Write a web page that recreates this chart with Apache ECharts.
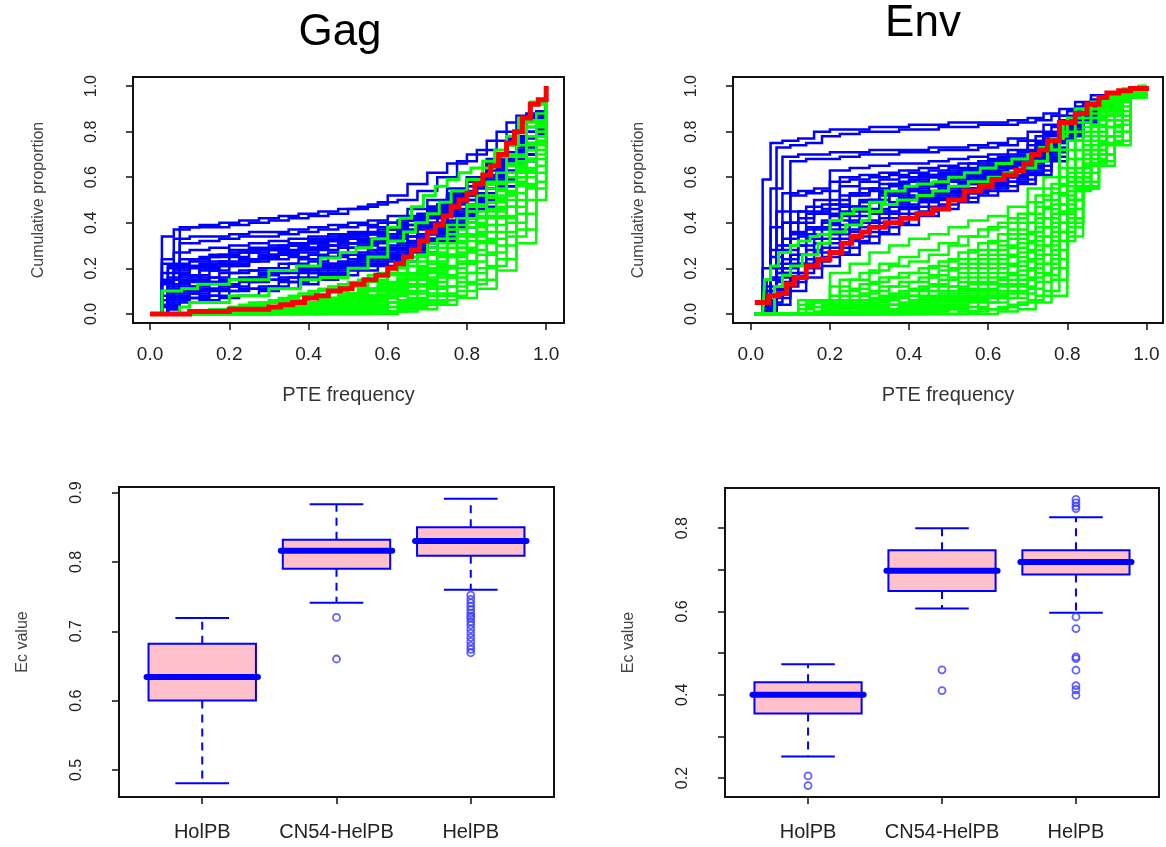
<!DOCTYPE html>
<html>
<head>
<meta charset="utf-8">
<script src="https://cdn.jsdelivr.net/npm/echarts@6/dist/echarts.min.js"></script>
<style>
  html, body { margin: 0; padding: 0; background: #ffffff; }
  #chart { width: 1166px; height: 847px; }
</style>
</head>
<body>
<div id="chart"></div>
<script>
// ---------- Panel titles and axis texts ----------
const panelTitles = ['Gag', 'Env'];
const pteName = 'PTE frequency';
const cumName = 'Cumulative proportion';
const ecName = 'Ec value';
const groups = ['HolPB', 'CN54-HelPB', 'HelPB'];

// ---------- Tick values ----------
const pteTicks = [0, 0.2, 0.4, 0.6, 0.8, 1.0];
const cumTicks = [0, 0.2, 0.4, 0.6, 0.8, 1.0];
const groupTicks = [1, 2, 3];
const gagEcTicks = [0.5, 0.6, 0.7, 0.8, 0.9];
const envEcTicks = [0.2, 0.3, 0.4, 0.5, 0.6, 0.7, 0.8];
const envEcLabels = [0.2, 0.4, 0.6, 0.8];

// ---------- Gag: cumulative proportion of PTE frequency ----------
// Two x breakpoint sets; curves alternate between them (even -> A, odd -> B)
const gagGridA = [0.01, 0.03, 0.06, 0.1, 0.15, 0.2, 0.25, 0.3, 0.35, 0.4, 0.45, 0.5, 0.55, 0.6, 0.65, 0.7, 0.75, 0.8, 0.85, 0.9, 0.95, 1.0];
const gagGridB = [0.015, 0.045, 0.075, 0.125, 0.175, 0.225, 0.275, 0.325, 0.375, 0.425, 0.475, 0.525, 0.575, 0.625, 0.675, 0.725, 0.775, 0.825, 0.875, 0.925, 0.975, 1.0];

const gagBlue = [
  [0, 0.34, 0.37, 0.38, 0.38, 0.39, 0.40, 0.41, 0.42, 0.43, 0.44, 0.46, 0.48, 0.52, 0.57, 0.62, 0.66, 0.70, 0.76, 0.84, 0.88, 1],
  [0, 0.02, 0.38, 0.39, 0.40, 0.41, 0.42, 0.43, 0.44, 0.45, 0.46, 0.47, 0.49, 0.50, 0.54, 0.60, 0.67, 0.72, 0.80, 0.87, 0.89, 1],
  [0, 0.22, 0.33, 0.34, 0.34, 0.35, 0.36, 0.36, 0.37, 0.38, 0.39, 0.40, 0.41, 0.43, 0.46, 0.50, 0.55, 0.60, 0.68, 0.78, 0.87, 1],
  [0, 0.20, 0.31, 0.32, 0.33, 0.34, 0.34, 0.35, 0.36, 0.37, 0.38, 0.39, 0.40, 0.41, 0.44, 0.48, 0.52, 0.58, 0.65, 0.75, 0.85, 1],
  [0, 0.24, 0.27, 0.28, 0.29, 0.30, 0.31, 0.32, 0.33, 0.34, 0.35, 0.36, 0.38, 0.40, 0.43, 0.47, 0.52, 0.58, 0.66, 0.76, 0.86, 1],
  [0, 0.21, 0.24, 0.25, 0.26, 0.27, 0.28, 0.30, 0.31, 0.32, 0.34, 0.35, 0.37, 0.39, 0.43, 0.48, 0.54, 0.60, 0.68, 0.78, 0.88, 1],
  [0, 0.18, 0.22, 0.23, 0.25, 0.27, 0.28, 0.29, 0.30, 0.31, 0.32, 0.33, 0.35, 0.37, 0.41, 0.46, 0.52, 0.58, 0.66, 0.76, 0.85, 1],
  [0, 0.16, 0.21, 0.22, 0.23, 0.24, 0.26, 0.27, 0.28, 0.30, 0.31, 0.32, 0.33, 0.36, 0.40, 0.44, 0.50, 0.57, 0.65, 0.74, 0.84, 1],
  [0, 0.14, 0.19, 0.20, 0.21, 0.22, 0.24, 0.26, 0.28, 0.29, 0.30, 0.31, 0.33, 0.35, 0.39, 0.45, 0.51, 0.58, 0.66, 0.75, 0.86, 1],
  [0, 0.12, 0.17, 0.19, 0.21, 0.23, 0.25, 0.26, 0.27, 0.28, 0.29, 0.30, 0.32, 0.34, 0.38, 0.43, 0.48, 0.55, 0.63, 0.73, 0.84, 1],
  [0, 0.10, 0.15, 0.17, 0.19, 0.21, 0.23, 0.24, 0.25, 0.26, 0.27, 0.29, 0.31, 0.33, 0.37, 0.42, 0.49, 0.56, 0.64, 0.75, 0.85, 1],
  [0, 0.09, 0.14, 0.16, 0.18, 0.19, 0.20, 0.22, 0.24, 0.25, 0.26, 0.27, 0.29, 0.31, 0.35, 0.40, 0.46, 0.53, 0.62, 0.72, 0.83, 1],
  [0, 0.08, 0.13, 0.15, 0.16, 0.18, 0.19, 0.20, 0.22, 0.23, 0.25, 0.26, 0.28, 0.30, 0.34, 0.39, 0.45, 0.52, 0.61, 0.71, 0.82, 1],
  [0, 0.07, 0.12, 0.14, 0.15, 0.16, 0.18, 0.19, 0.20, 0.22, 0.23, 0.25, 0.27, 0.29, 0.33, 0.38, 0.44, 0.51, 0.60, 0.70, 0.82, 1],
  [0, 0.06, 0.10, 0.12, 0.14, 0.15, 0.16, 0.18, 0.19, 0.20, 0.22, 0.24, 0.26, 0.28, 0.32, 0.37, 0.43, 0.50, 0.58, 0.69, 0.80, 1],
  [0, 0.05, 0.09, 0.10, 0.12, 0.14, 0.15, 0.16, 0.18, 0.19, 0.21, 0.23, 0.25, 0.27, 0.31, 0.36, 0.42, 0.49, 0.58, 0.70, 0.82, 1],
  [0, 0.04, 0.08, 0.09, 0.11, 0.12, 0.14, 0.15, 0.16, 0.18, 0.20, 0.22, 0.24, 0.26, 0.30, 0.35, 0.41, 0.48, 0.57, 0.68, 0.80, 1],
  [0, 0.03, 0.07, 0.08, 0.10, 0.11, 0.12, 0.14, 0.15, 0.17, 0.19, 0.21, 0.23, 0.25, 0.29, 0.34, 0.40, 0.47, 0.56, 0.67, 0.79, 1],
  [0, 0.03, 0.06, 0.07, 0.08, 0.10, 0.11, 0.12, 0.14, 0.16, 0.18, 0.20, 0.22, 0.24, 0.28, 0.33, 0.39, 0.46, 0.55, 0.66, 0.78, 1],
  [0, 0.02, 0.05, 0.06, 0.07, 0.08, 0.10, 0.11, 0.13, 0.15, 0.17, 0.19, 0.21, 0.23, 0.27, 0.32, 0.38, 0.46, 0.56, 0.68, 0.80, 1],
  [0, 0.15, 0.20, 0.24, 0.26, 0.28, 0.29, 0.30, 0.31, 0.33, 0.34, 0.35, 0.36, 0.38, 0.42, 0.47, 0.53, 0.60, 0.67, 0.77, 0.87, 1],
  [0, 0.11, 0.16, 0.20, 0.22, 0.24, 0.25, 0.27, 0.29, 0.30, 0.31, 0.32, 0.34, 0.36, 0.40, 0.46, 0.52, 0.59, 0.67, 0.77, 0.87, 1],
  [0, 0.13, 0.18, 0.21, 0.23, 0.25, 0.27, 0.28, 0.30, 0.32, 0.33, 0.34, 0.35, 0.37, 0.41, 0.45, 0.50, 0.56, 0.63, 0.74, 0.85, 1],
  [0, 0.04, 0.10, 0.11, 0.13, 0.15, 0.17, 0.18, 0.19, 0.21, 0.22, 0.24, 0.26, 0.28, 0.32, 0.37, 0.43, 0.50, 0.59, 0.70, 0.81, 1]
];

const gagGreen = [
  [0, 0, 0, 0.01, 0.02, 0.03, 0.04, 0.05, 0.06, 0.08, 0.10, 0.12, 0.14, 0.17, 0.21, 0.27, 0.35, 0.45, 0.55, 0.66, 0.82, 1],
  [0, 0, 0, 0.01, 0.01, 0.02, 0.03, 0.04, 0.05, 0.06, 0.08, 0.10, 0.12, 0.15, 0.19, 0.25, 0.32, 0.42, 0.52, 0.64, 0.80, 1],
  [0, 0, 0, 0, 0.01, 0.02, 0.02, 0.03, 0.04, 0.05, 0.07, 0.09, 0.11, 0.13, 0.17, 0.22, 0.29, 0.38, 0.49, 0.62, 0.78, 1],
  [0, 0, 0, 0, 0.01, 0.01, 0.02, 0.03, 0.03, 0.04, 0.06, 0.08, 0.10, 0.12, 0.15, 0.20, 0.27, 0.36, 0.47, 0.60, 0.76, 1],
  [0, 0, 0, 0, 0, 0.01, 0.01, 0.02, 0.03, 0.04, 0.05, 0.07, 0.08, 0.10, 0.13, 0.18, 0.25, 0.34, 0.45, 0.58, 0.75, 1],
  [0, 0, 0, 0, 0, 0.01, 0.01, 0.02, 0.02, 0.03, 0.04, 0.05, 0.07, 0.09, 0.12, 0.16, 0.22, 0.31, 0.42, 0.56, 0.74, 1],
  [0, 0, 0, 0, 0, 0, 0.01, 0.01, 0.02, 0.02, 0.03, 0.04, 0.06, 0.08, 0.10, 0.14, 0.20, 0.28, 0.39, 0.53, 0.72, 1],
  [0, 0, 0, 0, 0, 0, 0, 0.01, 0.01, 0.02, 0.02, 0.03, 0.05, 0.06, 0.09, 0.12, 0.18, 0.26, 0.36, 0.50, 0.70, 1],
  [0, 0, 0, 0, 0, 0, 0, 0, 0.01, 0.01, 0.02, 0.03, 0.04, 0.05, 0.07, 0.11, 0.16, 0.23, 0.33, 0.47, 0.68, 1],
  [0, 0, 0, 0, 0, 0, 0, 0, 0, 0.01, 0.01, 0.02, 0.03, 0.04, 0.06, 0.09, 0.14, 0.20, 0.30, 0.44, 0.65, 1],
  [0, 0, 0, 0, 0, 0, 0, 0, 0, 0, 0.01, 0.01, 0.02, 0.03, 0.05, 0.08, 0.12, 0.18, 0.27, 0.40, 0.62, 1],
  [0, 0, 0, 0, 0, 0, 0, 0, 0, 0, 0, 0.01, 0.01, 0.02, 0.04, 0.06, 0.10, 0.15, 0.24, 0.37, 0.58, 1],
  [0, 0, 0, 0, 0, 0, 0, 0, 0, 0, 0, 0, 0.01, 0.01, 0.03, 0.05, 0.08, 0.13, 0.21, 0.34, 0.55, 1],
  [0, 0, 0, 0, 0, 0, 0, 0, 0, 0, 0, 0, 0, 0.01, 0.02, 0.04, 0.07, 0.11, 0.19, 0.31, 0.50, 1],
  [0, 0, 0, 0.01, 0.02, 0.03, 0.05, 0.06, 0.08, 0.10, 0.12, 0.14, 0.17, 0.20, 0.25, 0.31, 0.39, 0.48, 0.58, 0.70, 0.85, 1],
  [0, 0, 0, 0.01, 0.02, 0.04, 0.05, 0.07, 0.09, 0.11, 0.13, 0.15, 0.18, 0.21, 0.26, 0.33, 0.42, 0.52, 0.62, 0.74, 0.88, 1],
  [0, 0, 0, 0.01, 0.01, 0.02, 0.03, 0.05, 0.06, 0.08, 0.10, 0.12, 0.15, 0.18, 0.23, 0.29, 0.37, 0.47, 0.57, 0.69, 0.84, 1],
  [0, 0, 0, 0, 0.01, 0.02, 0.03, 0.04, 0.05, 0.07, 0.09, 0.11, 0.13, 0.16, 0.20, 0.26, 0.34, 0.43, 0.54, 0.67, 0.83, 1],
  [0, 0, 0, 0, 0, 0.01, 0.02, 0.03, 0.04, 0.05, 0.07, 0.09, 0.11, 0.14, 0.18, 0.23, 0.31, 0.40, 0.51, 0.65, 0.82, 1],
  [0, 0, 0, 0, 0, 0, 0.01, 0.02, 0.03, 0.04, 0.05, 0.07, 0.09, 0.12, 0.16, 0.21, 0.29, 0.39, 0.50, 0.63, 0.80, 1],
  [0, 0, 0, 0, 0, 0, 0, 0.01, 0.02, 0.03, 0.04, 0.06, 0.08, 0.11, 0.15, 0.19, 0.26, 0.35, 0.46, 0.60, 0.78, 1],
  [0, 0, 0, 0, 0, 0, 0, 0, 0.01, 0.02, 0.03, 0.05, 0.07, 0.09, 0.13, 0.17, 0.23, 0.32, 0.43, 0.57, 0.76, 1]
];

// Two highlighted green curves and the red reference curve (Gag)
const gagLeadAX = [0.02, 0.03, 0.08, 0.12, 0.2, 0.3, 0.37, 0.43, 0.48, 0.52, 0.56, 0.6, 0.63, 0.66, 0.69, 0.72, 0.75, 0.78, 0.81, 0.84, 0.87, 0.9, 0.93, 0.96, 1.0];
const gagLeadAY = [0, 0.10, 0.11, 0.13, 0.15, 0.19, 0.21, 0.245, 0.27, 0.29, 0.33, 0.38, 0.42, 0.47, 0.52, 0.56, 0.59, 0.62, 0.64, 0.67, 0.72, 0.78, 0.86, 0.93, 1.0];
const gagLeadBX = [0.02, 0.075, 0.1, 0.2, 0.3, 0.38, 0.43, 0.5, 0.55, 0.6, 0.64, 0.67, 0.7, 0.73, 0.76, 0.8, 0.84, 0.87, 0.9, 0.93, 0.96, 1.0];
const gagLeadBY = [0, 0.03, 0.05, 0.08, 0.11, 0.15, 0.16, 0.20, 0.25, 0.32, 0.36, 0.40, 0.44, 0.49, 0.54, 0.59, 0.64, 0.69, 0.74, 0.85, 0.92, 1.0];
const gagRedX = [0.0, 0.05, 0.1, 0.15, 0.2, 0.25, 0.3, 0.33, 0.36, 0.39, 0.42, 0.45, 0.48, 0.51, 0.54, 0.57, 0.6, 0.62, 0.64, 0.66, 0.68, 0.7, 0.72, 0.74, 0.76, 0.78, 0.8, 0.82, 0.84, 0.86, 0.88, 0.9, 0.92, 0.94, 0.96, 0.98, 1.0];
const gagRedY = [0, 0, 0.01, 0.01, 0.02, 0.02, 0.03, 0.04, 0.05, 0.07, 0.08, 0.10, 0.11, 0.13, 0.15, 0.17, 0.20, 0.22, 0.25, 0.28, 0.32, 0.36, 0.39, 0.43, 0.47, 0.50, 0.53, 0.57, 0.61, 0.65, 0.70, 0.75, 0.80, 0.86, 0.92, 0.94, 1.0];

// ---------- Env: cumulative proportion of PTE frequency ----------
const envGridA = [0.01, 0.03, 0.05, 0.08, 0.12, 0.16, 0.2, 0.25, 0.3, 0.35, 0.4, 0.45, 0.5, 0.55, 0.6, 0.65, 0.7, 0.74, 0.78, 0.82, 0.86, 0.9, 0.94, 0.98, 1.0];
const envGridB = [0.02, 0.04, 0.065, 0.1, 0.14, 0.18, 0.225, 0.275, 0.325, 0.375, 0.425, 0.475, 0.525, 0.575, 0.625, 0.675, 0.72, 0.76, 0.8, 0.84, 0.88, 0.92, 0.96, 0.99, 1.0];

const envBlue = [
  [0, 0.59, 0.75, 0.76, 0.77, 0.80, 0.81, 0.81, 0.82, 0.82, 0.83, 0.83, 0.84, 0.84, 0.84, 0.85, 0.86, 0.88, 0.90, 0.93, 0.96, 0.97, 0.98, 0.99, 1],
  [0, 0.10, 0.73, 0.74, 0.75, 0.78, 0.79, 0.80, 0.80, 0.81, 0.81, 0.82, 0.82, 0.83, 0.83, 0.84, 0.85, 0.87, 0.89, 0.92, 0.95, 0.97, 0.98, 0.99, 1],
  [0, 0.20, 0.55, 0.69, 0.70, 0.70, 0.71, 0.71, 0.72, 0.72, 0.72, 0.73, 0.73, 0.74, 0.75, 0.77, 0.80, 0.83, 0.87, 0.91, 0.94, 0.96, 0.98, 0.99, 1],
  [0, 0.15, 0.45, 0.67, 0.68, 0.68, 0.69, 0.70, 0.70, 0.71, 0.71, 0.72, 0.72, 0.73, 0.74, 0.76, 0.78, 0.82, 0.86, 0.90, 0.94, 0.96, 0.98, 0.99, 1],
  [0, 0.12, 0.38, 0.53, 0.54, 0.55, 0.63, 0.64, 0.65, 0.66, 0.66, 0.67, 0.68, 0.69, 0.70, 0.72, 0.76, 0.80, 0.85, 0.90, 0.94, 0.96, 0.98, 0.99, 1],
  [0, 0.10, 0.30, 0.52, 0.53, 0.54, 0.60, 0.61, 0.62, 0.63, 0.64, 0.65, 0.66, 0.67, 0.69, 0.71, 0.75, 0.79, 0.84, 0.89, 0.93, 0.96, 0.98, 0.99, 1],
  [0, 0.08, 0.25, 0.40, 0.45, 0.50, 0.58, 0.59, 0.60, 0.61, 0.62, 0.63, 0.64, 0.66, 0.68, 0.70, 0.74, 0.79, 0.84, 0.89, 0.93, 0.96, 0.98, 0.99, 1],
  [0, 0.06, 0.22, 0.35, 0.44, 0.46, 0.52, 0.55, 0.57, 0.58, 0.60, 0.61, 0.62, 0.64, 0.66, 0.69, 0.73, 0.78, 0.84, 0.90, 0.94, 0.96, 0.98, 0.99, 1],
  [0, 0.05, 0.20, 0.33, 0.40, 0.44, 0.48, 0.52, 0.54, 0.56, 0.58, 0.60, 0.61, 0.63, 0.65, 0.68, 0.72, 0.77, 0.83, 0.89, 0.93, 0.96, 0.98, 0.99, 1],
  [0, 0.04, 0.18, 0.30, 0.37, 0.41, 0.45, 0.49, 0.52, 0.54, 0.56, 0.58, 0.60, 0.62, 0.64, 0.67, 0.71, 0.76, 0.83, 0.89, 0.93, 0.96, 0.98, 0.99, 1],
  [0, 0.03, 0.16, 0.28, 0.35, 0.38, 0.43, 0.47, 0.50, 0.53, 0.55, 0.57, 0.59, 0.61, 0.63, 0.66, 0.70, 0.75, 0.82, 0.88, 0.93, 0.96, 0.98, 0.99, 1],
  [0, 0.03, 0.14, 0.26, 0.33, 0.37, 0.41, 0.45, 0.48, 0.51, 0.53, 0.55, 0.57, 0.60, 0.62, 0.65, 0.69, 0.75, 0.82, 0.88, 0.93, 0.96, 0.98, 0.99, 1],
  [0, 0.02, 0.12, 0.24, 0.30, 0.35, 0.39, 0.43, 0.46, 0.49, 0.52, 0.54, 0.56, 0.59, 0.61, 0.64, 0.68, 0.74, 0.81, 0.88, 0.93, 0.96, 0.98, 0.99, 1],
  [0, 0.02, 0.11, 0.22, 0.28, 0.33, 0.37, 0.41, 0.45, 0.48, 0.51, 0.53, 0.55, 0.58, 0.60, 0.63, 0.67, 0.73, 0.80, 0.87, 0.92, 0.95, 0.97, 0.99, 1],
  [0, 0.01, 0.10, 0.20, 0.26, 0.31, 0.35, 0.40, 0.44, 0.47, 0.50, 0.52, 0.54, 0.57, 0.59, 0.62, 0.66, 0.72, 0.80, 0.87, 0.92, 0.95, 0.97, 0.99, 1],
  [0, 0.01, 0.09, 0.18, 0.24, 0.29, 0.33, 0.38, 0.42, 0.46, 0.49, 0.51, 0.53, 0.56, 0.58, 0.61, 0.65, 0.71, 0.79, 0.86, 0.92, 0.95, 0.97, 0.99, 1],
  [0, 0.01, 0.08, 0.16, 0.22, 0.27, 0.31, 0.36, 0.40, 0.44, 0.47, 0.50, 0.52, 0.55, 0.57, 0.60, 0.64, 0.70, 0.78, 0.86, 0.91, 0.95, 0.97, 0.99, 1],
  [0, 0, 0.07, 0.14, 0.20, 0.25, 0.29, 0.34, 0.38, 0.42, 0.45, 0.48, 0.51, 0.54, 0.56, 0.59, 0.63, 0.69, 0.78, 0.85, 0.91, 0.95, 0.97, 0.99, 1],
  [0, 0, 0.05, 0.12, 0.18, 0.23, 0.27, 0.32, 0.36, 0.40, 0.44, 0.47, 0.50, 0.53, 0.55, 0.58, 0.62, 0.68, 0.77, 0.85, 0.91, 0.95, 0.97, 0.99, 1],
  [0, 0, 0.04, 0.10, 0.16, 0.21, 0.26, 0.31, 0.35, 0.39, 0.43, 0.46, 0.49, 0.52, 0.54, 0.57, 0.61, 0.67, 0.76, 0.84, 0.90, 0.94, 0.97, 0.99, 1],
  [0, 0.05, 0.28, 0.40, 0.42, 0.45, 0.50, 0.53, 0.55, 0.57, 0.59, 0.61, 0.63, 0.64, 0.66, 0.68, 0.71, 0.76, 0.82, 0.88, 0.93, 0.96, 0.98, 0.99, 1],
  [0, 0.04, 0.20, 0.36, 0.38, 0.40, 0.47, 0.50, 0.53, 0.55, 0.57, 0.59, 0.60, 0.62, 0.64, 0.66, 0.70, 0.75, 0.81, 0.88, 0.92, 0.95, 0.97, 0.99, 1],
  [0, 0.02, 0.15, 0.30, 0.34, 0.38, 0.44, 0.47, 0.50, 0.52, 0.54, 0.56, 0.58, 0.60, 0.62, 0.65, 0.69, 0.74, 0.81, 0.87, 0.92, 0.95, 0.97, 0.99, 1],
  [0, 0.03, 0.18, 0.45, 0.47, 0.48, 0.56, 0.58, 0.59, 0.60, 0.61, 0.62, 0.63, 0.65, 0.67, 0.69, 0.72, 0.77, 0.83, 0.89, 0.93, 0.96, 0.98, 0.99, 1]
];

const envGreen = [
  [0, 0, 0, 0, 0.06, 0.06, 0.18, 0.22, 0.27, 0.30, 0.33, 0.35, 0.38, 0.41, 0.43, 0.47, 0.55, 0.60, 0.80, 0.88, 0.92, 0.96, 0.99, 1, 1],
  [0, 0, 0, 0, 0.05, 0.06, 0.15, 0.18, 0.22, 0.25, 0.28, 0.31, 0.34, 0.37, 0.40, 0.44, 0.52, 0.57, 0.76, 0.86, 0.91, 0.95, 0.99, 1, 1],
  [0, 0, 0, 0, 0.04, 0.05, 0.12, 0.15, 0.19, 0.21, 0.23, 0.26, 0.30, 0.34, 0.38, 0.42, 0.49, 0.55, 0.72, 0.84, 0.90, 0.95, 0.98, 1, 1],
  [0, 0, 0, 0, 0.03, 0.04, 0.10, 0.13, 0.16, 0.18, 0.20, 0.23, 0.27, 0.31, 0.35, 0.40, 0.47, 0.53, 0.68, 0.82, 0.89, 0.94, 0.98, 0.99, 1],
  [0, 0, 0, 0, 0.02, 0.03, 0.08, 0.11, 0.14, 0.16, 0.18, 0.21, 0.24, 0.28, 0.32, 0.37, 0.44, 0.50, 0.64, 0.80, 0.88, 0.93, 0.97, 0.99, 1],
  [0, 0, 0, 0, 0, 0.02, 0.06, 0.09, 0.12, 0.14, 0.16, 0.19, 0.22, 0.26, 0.30, 0.35, 0.42, 0.48, 0.62, 0.78, 0.87, 0.93, 0.97, 0.99, 1],
  [0, 0, 0, 0, 0, 0.01, 0.05, 0.08, 0.10, 0.12, 0.14, 0.17, 0.20, 0.24, 0.28, 0.33, 0.40, 0.46, 0.60, 0.76, 0.86, 0.92, 0.97, 0.99, 1],
  [0, 0, 0, 0, 0, 0.01, 0.04, 0.06, 0.08, 0.10, 0.12, 0.15, 0.18, 0.22, 0.26, 0.31, 0.38, 0.44, 0.58, 0.74, 0.85, 0.91, 0.96, 0.98, 1],
  [0, 0, 0, 0, 0, 0, 0.03, 0.05, 0.07, 0.09, 0.11, 0.13, 0.16, 0.20, 0.24, 0.29, 0.36, 0.42, 0.56, 0.72, 0.83, 0.90, 0.96, 0.98, 1],
  [0, 0, 0, 0, 0, 0, 0.02, 0.04, 0.06, 0.08, 0.10, 0.12, 0.14, 0.18, 0.22, 0.27, 0.34, 0.40, 0.54, 0.70, 0.82, 0.89, 0.95, 0.98, 1],
  [0, 0, 0, 0, 0, 0, 0.01, 0.03, 0.05, 0.07, 0.08, 0.10, 0.12, 0.16, 0.20, 0.25, 0.32, 0.38, 0.52, 0.68, 0.80, 0.88, 0.95, 0.97, 1],
  [0, 0, 0, 0, 0, 0, 0, 0.02, 0.04, 0.05, 0.07, 0.09, 0.11, 0.14, 0.18, 0.23, 0.30, 0.36, 0.50, 0.66, 0.78, 0.87, 0.95, 0.97, 1],
  [0, 0, 0, 0, 0, 0, 0, 0.01, 0.03, 0.04, 0.06, 0.08, 0.10, 0.13, 0.16, 0.21, 0.28, 0.34, 0.48, 0.64, 0.76, 0.85, 0.95, 0.97, 1],
  [0, 0, 0, 0, 0, 0, 0, 0.01, 0.02, 0.03, 0.05, 0.07, 0.09, 0.11, 0.15, 0.19, 0.26, 0.32, 0.46, 0.62, 0.74, 0.83, 0.95, 0.96, 1],
  [0, 0, 0, 0, 0, 0, 0, 0, 0.01, 0.02, 0.04, 0.06, 0.08, 0.10, 0.13, 0.17, 0.24, 0.30, 0.44, 0.60, 0.72, 0.82, 0.96, 0.96, 1],
  [0, 0, 0, 0, 0, 0, 0, 0, 0.01, 0.02, 0.03, 0.05, 0.07, 0.09, 0.12, 0.15, 0.22, 0.28, 0.42, 0.58, 0.70, 0.80, 0.95, 0.95, 1],
  [0, 0, 0, 0, 0, 0, 0, 0, 0, 0.01, 0.02, 0.04, 0.06, 0.08, 0.10, 0.13, 0.20, 0.26, 0.40, 0.56, 0.68, 0.78, 0.96, 0.96, 1],
  [0, 0, 0, 0, 0, 0, 0, 0, 0, 0.01, 0.02, 0.03, 0.05, 0.07, 0.09, 0.12, 0.18, 0.24, 0.38, 0.55, 0.67, 0.76, 0.95, 0.95, 1],
  [0, 0, 0, 0, 0, 0, 0, 0, 0, 0, 0.01, 0.02, 0.04, 0.06, 0.08, 0.10, 0.16, 0.22, 0.36, 0.54, 0.66, 0.75, 0.96, 0.96, 1],
  [0, 0, 0, 0, 0, 0, 0, 0, 0, 0, 0.01, 0.02, 0.03, 0.05, 0.07, 0.09, 0.14, 0.20, 0.34, 0.55, 0.65, 0.74, 0.97, 0.97, 1],
  [0, 0, 0, 0, 0, 0, 0, 0, 0, 0, 0, 0.01, 0.02, 0.03, 0.05, 0.07, 0.11, 0.17, 0.32, 0.55, 0.68, 0.78, 0.97, 0.97, 1],
  [0, 0, 0, 0, 0, 0, 0, 0, 0, 0, 0, 0, 0.01, 0.02, 0.03, 0.05, 0.08, 0.15, 0.40, 0.56, 0.70, 0.80, 0.96, 0.96, 1],
  [0, 0, 0, 0, 0, 0, 0, 0, 0, 0, 0, 0, 0, 0.01, 0.02, 0.04, 0.06, 0.10, 0.45, 0.60, 0.72, 0.82, 0.97, 0.97, 1],
  [0, 0, 0, 0, 0, 0, 0, 0, 0, 0, 0, 0, 0, 0, 0.01, 0.02, 0.05, 0.08, 0.50, 0.65, 0.75, 0.85, 0.98, 0.98, 1]
];

const envLeadAX = [0.03, 0.035, 0.05, 0.07, 0.1, 0.12, 0.15, 0.17, 0.2, 0.23, 0.26, 0.3, 0.34, 0.39, 0.42, 0.46, 0.5, 0.54, 0.58, 0.62, 0.66, 0.7, 0.73, 0.76, 0.79, 0.82, 0.86, 0.9, 0.95, 1.0];
const envLeadAY = [0, 0.15, 0.21, 0.27, 0.30, 0.32, 0.34, 0.35, 0.41, 0.44, 0.46, 0.49, 0.54, 0.56, 0.57, 0.58, 0.60, 0.62, 0.64, 0.66, 0.68, 0.70, 0.73, 0.77, 0.84, 0.90, 0.93, 0.95, 0.98, 1.0];
const envLeadBX = [0.05, 0.06, 0.08, 0.1, 0.13, 0.17, 0.2, 0.24, 0.28, 0.3, 0.33, 0.37, 0.42, 0.46, 0.5, 0.55, 0.6, 0.64, 0.68, 0.72, 0.75, 0.78, 0.8, 0.84, 0.88, 0.93, 1.0];
const envLeadBY = [0, 0.12, 0.17, 0.21, 0.26, 0.31, 0.36, 0.39, 0.41, 0.45, 0.48, 0.50, 0.52, 0.54, 0.56, 0.58, 0.60, 0.62, 0.64, 0.67, 0.72, 0.78, 0.86, 0.90, 0.94, 0.97, 1.0];
const envRedX = [0.01, 0.03, 0.045, 0.07, 0.09, 0.11, 0.14, 0.17, 0.2, 0.23, 0.255, 0.28, 0.3, 0.34, 0.38, 0.42, 0.46, 0.5, 0.54, 0.58, 0.61, 0.64, 0.67, 0.69, 0.71, 0.73, 0.75, 0.78, 0.8, 0.82, 0.85, 0.88, 0.9, 0.93, 0.96, 1.0];
const envRedY = [0.05, 0.05, 0.08, 0.09, 0.13, 0.16, 0.21, 0.24, 0.27, 0.31, 0.34, 0.36, 0.38, 0.40, 0.42, 0.44, 0.46, 0.50, 0.54, 0.56, 0.59, 0.61, 0.63, 0.66, 0.70, 0.72, 0.76, 0.84, 0.84, 0.88, 0.92, 0.95, 0.97, 0.98, 0.99, 1.0];

// ---------- Ec value box plots: [min whisker, Q1, median, Q3, max whisker] ----------
const gagBoxStats = [
  [0.481, 0.600, 0.634, 0.682, 0.719],
  [0.741, 0.790, 0.816, 0.832, 0.883],
  [0.760, 0.809, 0.830, 0.850, 0.891]
];
const gagOutliers = [
  [2, 0.720], [2, 0.660],
  [3, 0.752], [3, 0.746], [3, 0.741], [3, 0.736], [3, 0.731], [3, 0.726], [3, 0.722], [3, 0.719],
  [3, 0.714], [3, 0.709], [3, 0.703], [3, 0.697], [3, 0.691], [3, 0.685], [3, 0.679], [3, 0.674], [3, 0.669]
];
const envBoxStats = [
  [0.252, 0.355, 0.400, 0.430, 0.473],
  [0.607, 0.649, 0.698, 0.747, 0.800],
  [0.597, 0.689, 0.719, 0.747, 0.826]
];
const envOutliers = [
  [1, 0.205], [1, 0.182],
  [2, 0.460], [2, 0.410],
  [3, 0.869], [3, 0.861], [3, 0.853], [3, 0.847],
  [3, 0.587], [3, 0.559], [3, 0.491], [3, 0.487], [3, 0.459], [3, 0.422], [3, 0.412], [3, 0.399]
];

// ---------- Styling ----------
const BLUE = '#0000ff';
const GREEN = '#00ff00';
const RED = '#ff0000';
const PINK = '#ffc0cb';
const INK = '#111111';
const FONT = "'Liberation Sans', Arial, Helvetica, sans-serif";

const fmt1 = v => Number(v).toFixed(1);

function ecdfLine(xs, ys, color, width, axisIndex, z) {
  return {
    type: 'line', xAxisIndex: axisIndex, yAxisIndex: axisIndex,
    step: 'end', symbol: 'none', silent: true, animation: false, z: z,
    data: xs.map((x, i) => [x, ys[i]]),
    lineStyle: { color: color, width: width, cap: 'butt', join: 'miter' },
    emphasis: { disabled: true }
  };
}

function renderBox(params, api) {
  const pos = api.value(0);
  const pMin = api.coord([pos, api.value(1)]);
  const pQ1 = api.coord([pos, api.value(2)]);
  const pMed = api.coord([pos, api.value(3)]);
  const pQ3 = api.coord([pos, api.value(4)]);
  const pMax = api.coord([pos, api.value(5)]);
  const half = api.size([0.4, 0])[0];
  const cap = api.size([0.2, 0])[0];
  const cx = pMed[0];
  const dashed = { stroke: BLUE, lineWidth: 2, lineDash: [8, 6] };
  const solid = { stroke: BLUE, lineWidth: 2 };
  return {
    type: 'group',
    children: [
      { type: 'line', shape: { x1: cx, y1: pQ3[1], x2: cx, y2: pMax[1] }, style: dashed },
      { type: 'line', shape: { x1: cx, y1: pQ1[1], x2: cx, y2: pMin[1] }, style: dashed },
      { type: 'line', shape: { x1: cx - cap, y1: pMax[1], x2: cx + cap, y2: pMax[1] }, style: solid },
      { type: 'line', shape: { x1: cx - cap, y1: pMin[1], x2: cx + cap, y2: pMin[1] }, style: solid },
      { type: 'rect', shape: { x: cx - half, y: pQ3[1], width: 2 * half, height: pQ1[1] - pQ3[1] },
        style: { fill: PINK, stroke: BLUE, lineWidth: 2 } },
      { type: 'line', shape: { x1: cx - half - 2, y1: pMed[1], x2: cx + half + 2, y2: pMed[1] },
        style: { stroke: BLUE, lineWidth: 6, lineCap: 'round' } }
    ]
  };
}

// ---------- Layout: four framed plot regions ----------
const frame = { show: true, borderColor: INK, borderWidth: 2, backgroundColor: 'transparent' };
const grids = [
  Object.assign({ left: 133, top: 77, width: 431, height: 246 }, frame),
  Object.assign({ left: 733, top: 77, width: 430, height: 246 }, frame),
  Object.assign({ left: 119, top: 487, width: 435, height: 310 }, frame),
  Object.assign({ left: 725, top: 488, width: 434, height: 309 }, frame)
];

const tickStyle = { lineStyle: { color: INK, width: 1.5 }, length: 7 };
const xLabelText = { color: '#222', fontSize: 19, fontFamily: FONT };
const yLabelText = { color: '#222', fontSize: 16, fontFamily: FONT };
const xNameText = { color: '#333', fontSize: 20, fontFamily: FONT };
const yNameText = { color: '#444', fontSize: 16, fontFamily: FONT };

function xAxisPte(idx, min, max) {
  return {
    type: 'value', gridIndex: idx, min: min, max: max,
    axisLine: { show: false, onZero: false }, splitLine: { show: false },
    axisTick: Object.assign({ show: true, customValues: pteTicks }, tickStyle),
    axisLabel: Object.assign({ customValues: pteTicks, formatter: fmt1, margin: 22 }, xLabelText),
    name: pteName, nameLocation: 'middle', nameGap: 62, nameTextStyle: xNameText
  };
}
function yAxisCum(idx) {
  return {
    type: 'value', gridIndex: idx, min: -0.04, max: 1.04,
    axisLine: { show: false, onZero: false }, splitLine: { show: false },
    axisTick: Object.assign({ show: true, customValues: cumTicks }, tickStyle),
    axisLabel: Object.assign({ customValues: cumTicks, formatter: fmt1, rotate: 90, margin: 33 }, yLabelText),
    name: cumName, nameLocation: 'middle', nameGap: 86, nameTextStyle: yNameText
  };
}
function xAxisGroups(idx) {
  return {
    type: 'value', gridIndex: idx, min: 0.38, max: 3.62,
    axisLine: { show: false, onZero: false }, splitLine: { show: false },
    axisTick: Object.assign({ show: true, customValues: groupTicks }, tickStyle),
    axisLabel: Object.assign({ customValues: groupTicks, formatter: v => groups[Math.round(v) - 1], margin: 25 },
      xLabelText, { fontSize: 20 })
  };
}
function yAxisEc(idx, min, max, ticks, labels) {
  return {
    type: 'value', gridIndex: idx, min: min, max: max,
    axisLine: { show: false, onZero: false }, splitLine: { show: false },
    axisTick: Object.assign({ show: true, customValues: ticks }, tickStyle),
    axisLabel: Object.assign({ customValues: labels, formatter: fmt1, rotate: 90, margin: 34 }, yLabelText),
    name: ecName, nameLocation: 'middle', nameGap: 88, nameTextStyle: yNameText
  };
}

// ---------- Series ----------
const series = [];
gagBlue.forEach((ys, i) => series.push(ecdfLine(i % 2 ? gagGridB : gagGridA, ys, BLUE, 2.5, 0, 2)));
gagGreen.forEach((ys, i) => series.push(ecdfLine(i % 2 ? gagGridB : gagGridA, ys, GREEN, 2.5, 0, 3)));
series.push(ecdfLine(gagLeadAX, gagLeadAY, GREEN, 3, 0, 4));
series.push(ecdfLine(gagLeadBX, gagLeadBY, GREEN, 3, 0, 4));
series.push(ecdfLine(gagRedX, gagRedY, RED, 5, 0, 5));

envBlue.forEach((ys, i) => series.push(ecdfLine(i % 2 ? envGridB : envGridA, ys, BLUE, 2.5, 1, 2)));
envGreen.forEach((ys, i) => series.push(ecdfLine(i % 2 ? envGridB : envGridA, ys, GREEN, 2.5, 1, 3)));
series.push(ecdfLine(envLeadAX, envLeadAY, GREEN, 3, 1, 4));
series.push(ecdfLine(envLeadBX, envLeadBY, GREEN, 3, 1, 4));
series.push(ecdfLine(envRedX, envRedY, RED, 5, 1, 5));

function boxSeries(stats, axisIndex) {
  return {
    type: 'custom', xAxisIndex: axisIndex, yAxisIndex: axisIndex, silent: true, animation: false, z: 2,
    renderItem: renderBox,
    encode: { x: 0, y: [1, 2, 3, 4, 5] },
    data: stats.map((s, i) => [groupTicks[i]].concat(s))
  };
}
function outlierSeries(points, axisIndex) {
  return {
    type: 'scatter', xAxisIndex: axisIndex, yAxisIndex: axisIndex, silent: true, animation: false, z: 3,
    symbol: 'circle', symbolSize: 7, data: points,
    itemStyle: { color: 'rgba(255,255,255,0)', borderColor: '#3a3aff', borderWidth: 1.8 }
  };
}
series.push(boxSeries(gagBoxStats, 2));
series.push(outlierSeries(gagOutliers, 2));
series.push(boxSeries(envBoxStats, 3));
series.push(outlierSeries(envOutliers, 3));

const option = {
  backgroundColor: '#ffffff',
  animation: false,
  title: [
    { text: panelTitles[0], left: 335, top: 6, textAlign: 'center',
      textStyle: { fontSize: 44, fontWeight: 'normal', color: '#000', fontFamily: FONT } },
    { text: panelTitles[1], left: 918, top: -3, textAlign: 'center',
      textStyle: { fontSize: 44, fontWeight: 'normal', color: '#000', fontFamily: FONT } }
  ],
  grid: grids,
  xAxis: [
    xAxisPte(0, -0.043, 1.045),
    xAxisPte(1, -0.045, 1.042),
    xAxisGroups(2),
    xAxisGroups(3)
  ],
  yAxis: [
    yAxisCum(0),
    yAxisCum(1),
    yAxisEc(2, 0.461, 0.908, gagEcTicks, gagEcTicks),
    yAxisEc(3, 0.1545, 0.8965, envEcTicks, envEcLabels)
  ],
  series: series
};

const chart = echarts.init(document.getElementById('chart'), null, { renderer: 'canvas' });
chart.setOption(option);
</script>
</body>
</html>
